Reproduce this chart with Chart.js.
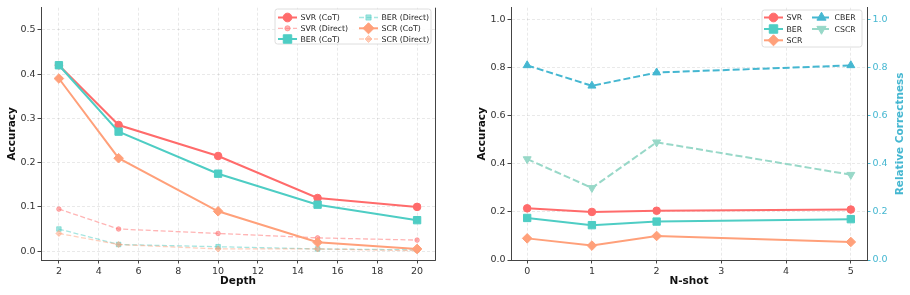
<!DOCTYPE html>
<html>
<head>
<meta charset="utf-8">
<script src="https://cdn.jsdelivr.net/npm/chart.js@4.4.1/dist/chart.umd.min.js"></script>
<style>
  html, body { margin: 0; padding: 0; background: #fff; }
  #wrap { position: relative; width: 910px; height: 295px; overflow: hidden; }
  canvas { position: absolute; top: 0; }
  #c1 { left: 0; }
  #c2 { left: 455px; }
</style>
</head>
<body>
<div id="wrap">
  <canvas id="c1" width="455" height="295"></canvas>
  <canvas id="c2" width="455" height="295"></canvas>
</div>
<script>
// ---------- data ----------
const depth = [2, 5, 10, 15, 20];
const svrCot = [0.42, 0.285, 0.215, 0.12, 0.10];
const svrDirect = [0.095, 0.05, 0.04, 0.03, 0.025];
const berCot = [0.42, 0.27, 0.175, 0.105, 0.07];
const berDirect = [0.05, 0.015, 0.01, 0.005, 0.003];
const scrCot = [0.39, 0.21, 0.09, 0.02, 0.005];
const scrDirect = [0.04, 0.015, 0.005, 0.005, 0.001];

const nShot = [0, 1, 2, 5];
const svrN = [0.215, 0.20, 0.205, 0.21];
const berN = [0.175, 0.145, 0.16, 0.17];
const scrN = [0.09, 0.06, 0.10, 0.075];
const cberN = [0.81, 0.725, 0.78, 0.81];
const cscrN = [0.42, 0.30, 0.49, 0.355];

const depthTicks = [2, 4, 6, 8, 10, 12, 14, 16, 18, 20];
const accTicksLeft = [0.0, 0.1, 0.2, 0.3, 0.4, 0.5];
const nShotTicks = [0, 1, 2, 3, 4, 5];
const accTicksRight = [0.0, 0.2, 0.4, 0.6, 0.8, 1.0];
const relTicks = [0.0, 0.2, 0.4, 0.6, 0.8, 1.0];

// ---------- style ----------
const FONT = "'DejaVu Sans', sans-serif";
const C_SVR = '#FF6B6B', C_BER = '#4ECDC4', C_SCR = '#FFA07A', C_CBER = '#45B7D1', C_CSCR = '#98D8C8';
const SPINE = '#444';
const GRID = 'rgba(0,0,0,0.11)';
const TICKC = '#333';
function rgba(hex, a) {
  const n = parseInt(hex.slice(1), 16);
  return `rgba(${(n >> 16) & 255},${(n >> 8) & 255},${n & 255},${a})`;
}
function pts(xs, ys) { return xs.map((x, i) => ({ x, y: ys[i] })); }

function ds(label, data, color, opt) {
  return Object.assign({
    label, data,
    borderColor: color, backgroundColor: color,
    pointBackgroundColor: color, pointBorderColor: color,
    borderWidth: 2, pointBorderWidth: 1,
    pointStyle: 'circle', pointRadius: 3.7, pointRotation: 0,
    tension: 0, fill: false, borderDash: []
  }, opt || {});
}

// ---------- marker drawing for legend ----------
function marker(ctx, style, x, y, r, rot) {
  ctx.beginPath();
  if (style === 'circle') {
    ctx.arc(x, y, r, 0, Math.PI * 2);
  } else if (style === 'rect') {
    const s = r * Math.SQRT1_2;
    ctx.rect(x - s, y - s, 2 * s, 2 * s);
  } else if (style === 'rectRot') {
    ctx.moveTo(x - r, y); ctx.lineTo(x, y - r); ctx.lineTo(x + r, y); ctx.lineTo(x, y + r);
    ctx.closePath();
  } else if (style === 'triangle') {
    let rad = (rot || 0) * Math.PI / 180;
    ctx.moveTo(x + Math.sin(rad) * r, y - Math.cos(rad) * r);
    rad += 2 * Math.PI / 3;
    ctx.lineTo(x + Math.sin(rad) * r, y - Math.cos(rad) * r);
    rad += 2 * Math.PI / 3;
    ctx.lineTo(x + Math.sin(rad) * r, y - Math.cos(rad) * r);
    ctx.closePath();
  }
  ctx.fill();
  ctx.stroke();
}

function roundRect(ctx, x, y, w, h, r) {
  ctx.beginPath();
  ctx.moveTo(x + r, y);
  ctx.lineTo(x + w - r, y); ctx.arcTo(x + w, y, x + w, y + r, r);
  ctx.lineTo(x + w, y + h - r); ctx.arcTo(x + w, y + h, x + w - r, y + h, r);
  ctx.lineTo(x + r, y + h); ctx.arcTo(x, y + h, x, y + h - r, r);
  ctx.lineTo(x, y + r); ctx.arcTo(x, y, x + r, y, r);
  ctx.closePath();
}

const legendPlugin = {
  id: 'customLegend',
  afterDraw(chart, args, opts) {
    if (!opts || !opts.items) return;
    const ctx = chart.ctx;
    ctx.save();
    const b = opts.box;
    roundRect(ctx, b.x, b.y, b.w, b.h, 2.5);
    ctx.fillStyle = 'rgba(255,255,255,0.85)';
    ctx.fill();
    ctx.strokeStyle = '#d6d6d6';
    ctx.lineWidth = 0.8;
    ctx.stroke();
    ctx.font = `7.8px ${FONT}`;
    ctx.textBaseline = 'middle';
    ctx.textAlign = 'left';
    opts.items.forEach(it => {
      const d = chart.data.datasets[it.ds];
      const x0 = it.x, x1 = it.x + 19, y = it.y;
      ctx.save();
      ctx.strokeStyle = d.borderColor;
      ctx.lineWidth = d.borderWidth;
      ctx.setLineDash(d.borderDash || []);
      ctx.beginPath(); ctx.moveTo(x0, y); ctx.lineTo(x1, y); ctx.stroke();
      ctx.setLineDash([]);
      ctx.fillStyle = d.pointBackgroundColor;
      ctx.strokeStyle = d.pointBorderColor;
      ctx.lineWidth = 1;
      marker(ctx, d.pointStyle, (x0 + x1) / 2, y, d.pointRadius * 1.15, d.pointRotation);
      ctx.restore();
      ctx.fillStyle = '#222';
      ctx.fillText(d.label, x1 + 3.5, y + 0.5);
    });
    ctx.restore();
  }
};

const rightSpinePlugin = {
  id: 'rightSpine',
  afterDraw(chart, args, opts) {
    if (!opts || !opts.show) return;
    const a = chart.chartArea, ctx = chart.ctx;
    ctx.save();
    ctx.strokeStyle = SPINE; ctx.lineWidth = 1;
    ctx.beginPath(); ctx.moveTo(a.right + 0.5, a.top); ctx.lineTo(a.right + 0.5, a.bottom); ctx.stroke();
    ctx.restore();
  }
};

const rightTitlePlugin = {
  id: 'rightTitle',
  afterDraw(chart, args, opts) {
    if (!opts || !opts.text) return;
    const a = chart.chartArea, ctx = chart.ctx;
    ctx.save();
    ctx.translate(opts.x, (a.top + a.bottom) / 2);
    ctx.rotate(-Math.PI / 2);
    ctx.font = `bold 10.5px ${FONT}`;
    ctx.fillStyle = opts.color;
    ctx.textAlign = 'center';
    ctx.textBaseline = 'middle';
    ctx.fillText(opts.text, 0, 0);
    ctx.restore();
  }
};

function setTicks(arr) { return ax => { ax.ticks = arr.map(v => ({ value: v })); }; }

function xScale(min, max, ticks, title, fmt) {
  return {
    type: 'linear', position: 'bottom', min, max,
    afterBuildTicks: setTicks(ticks),
    afterFit: s => { s.height = 35; },
    ticks: { font: { family: FONT, size: 9.5 }, color: TICKC, padding: 2, autoSkip: false, maxRotation: 0, callback: fmt },
    grid: { color: GRID, lineWidth: 0.8, tickColor: SPINE, tickLength: 3.5, tickWidth: 1, tickBorderDash: [] },
    border: { display: true, color: SPINE, width: 1, dash: [3, 2] },
    title: { display: true, text: title, color: '#111', font: { family: FONT, size: 10.5, weight: 'bold' }, padding: { top: 0, bottom: 7 } }
  };
}

function yScale(min, max, ticks, width, titlePad) {
  return {
    type: 'linear', position: 'left', min, max,
    afterBuildTicks: setTicks(ticks),
    afterFit: s => { s.width = width; },
    ticks: { font: { family: FONT, size: 9.5 }, color: TICKC, padding: 2, autoSkip: false, callback: v => v.toFixed(1) },
    grid: { color: GRID, lineWidth: 0.8, tickColor: SPINE, tickLength: 3.5, tickWidth: 1, tickBorderDash: [] },
    border: { display: true, color: SPINE, width: 1, dash: [3, 2] },
    title: { display: true, text: 'Accuracy', color: '#111', font: { family: FONT, size: 10.5, weight: 'bold' }, padding: { top: titlePad, bottom: 0 } }
  };
}

const common = {
  responsive: false, animation: false, devicePixelRatio: 1, events: [],
};

// ---------- left chart ----------
const leftSets = [
  ds('SVR (CoT)', pts(depth, svrCot), C_SVR, { pointStyle: 'circle', pointRadius: 3.8 }),
  ds('SVR (Direct)', pts(depth, svrDirect), rgba(C_SVR, 0.5), { pointStyle: 'circle', pointRadius: 2.3, borderWidth: 1.3, borderDash: [5, 2.5] }),
  ds('BER (CoT)', pts(depth, berCot), C_BER, { pointStyle: 'rect', pointRadius: 5.2 }),
  ds('BER (Direct)', pts(depth, berDirect), rgba(C_BER, 0.5), { pointStyle: 'rect', pointRadius: 3.2, borderWidth: 1.3, borderDash: [5, 2.5] }),
  ds('SCR (CoT)', pts(depth, scrCot), C_SCR, { pointStyle: 'rectRot', pointRadius: 4.8 }),
  ds('SCR (Direct)', pts(depth, scrDirect), rgba(C_SCR, 0.5), { pointStyle: 'rectRot', pointRadius: 3.0, borderWidth: 1.3, borderDash: [5, 2.5] })
];
leftSets.forEach((d, i) => { d.order = -i; });

new Chart(document.getElementById('c1'), {
  type: 'line',
  data: { datasets: leftSets },
  plugins: [legendPlugin, rightSpinePlugin],
  options: Object.assign({}, common, {
    layout: { padding: { left: 0, right: 20, top: 7, bottom: 0 } },
    scales: {
      x: xScale(1.1, 20.9, depthTicks, 'Depth', v => String(v)),
      y: yScale(-0.02, 0.55, accTicksLeft, 41, 6)
    },
    plugins: {
      legend: { display: false }, tooltip: { enabled: false },
      rightSpine: { show: true },
      customLegend: {
        box: { x: 275, y: 9, w: 156, h: 35 },
        items: [
          { ds: 0, x: 278, y: 17.5 }, { ds: 1, x: 278, y: 28.3 }, { ds: 2, x: 278, y: 39 },
          { ds: 3, x: 359, y: 17.5 }, { ds: 4, x: 359, y: 28.3 }, { ds: 5, x: 359, y: 39 }
        ]
      }
    }
  })
});

// ---------- right chart ----------
const rightSets = [
  ds('SVR', pts(nShot, svrN), C_SVR, { pointStyle: 'circle', pointRadius: 3.8, yAxisID: 'y' }),
  ds('BER', pts(nShot, berN), C_BER, { pointStyle: 'rect', pointRadius: 5.2, yAxisID: 'y' }),
  ds('SCR', pts(nShot, scrN), C_SCR, { pointStyle: 'rectRot', pointRadius: 4.8, yAxisID: 'y' }),
  ds('CBER', pts(nShot, cberN), C_CBER, { pointStyle: 'triangle', pointRadius: 4.6, borderDash: [7, 3], yAxisID: 'y2' }),
  ds('CSCR', pts(nShot, cscrN), C_CSCR, { pointStyle: 'triangle', pointRotation: 180, pointRadius: 4.6, borderDash: [7, 3], yAxisID: 'y2' })
];
rightSets.forEach((d, i) => { d.order = -i; });

const y2 = {
  type: 'linear', position: 'right', min: 0, max: 1.05,
  afterBuildTicks: setTicks(relTicks),
  afterFit: s => { s.width = 43; },
  ticks: { font: { family: FONT, size: 9.5 }, color: C_CBER, padding: 2, autoSkip: false, callback: v => v.toFixed(1) },
  grid: { drawOnChartArea: false, color: GRID, tickColor: C_CBER, tickLength: 3.5, tickWidth: 1, tickBorderDash: [] },
  border: { display: true, color: SPINE, width: 1 },
  title: { display: false }
};

new Chart(document.getElementById('c2'), {
  type: 'line',
  data: { datasets: rightSets },
  plugins: [legendPlugin, rightTitlePlugin],
  options: Object.assign({}, common, {
    layout: { padding: { left: 0, right: 0, top: 7, bottom: 0 } },
    scales: {
      x: xScale(-0.25, 5.25, nShotTicks, 'N-shot', v => String(v)),
      y: yScale(0, 1.05, accTicksRight, 56, 21.4),
      y2: y2
    },
    plugins: {
      legend: { display: false }, tooltip: { enabled: false },
      rightTitle: { text: 'Relative Correctness', x: 445, color: C_CBER },
      customLegend: {
        box: { x: 307, y: 10, w: 100, h: 37 },
        items: [
          { ds: 0, x: 309, y: 17.5 }, { ds: 1, x: 309, y: 29 }, { ds: 2, x: 309, y: 40.3 },
          { ds: 3, x: 357, y: 17.5 }, { ds: 4, x: 357, y: 29 }
        ]
      }
    }
  })
});
</script>
</body>
</html>
